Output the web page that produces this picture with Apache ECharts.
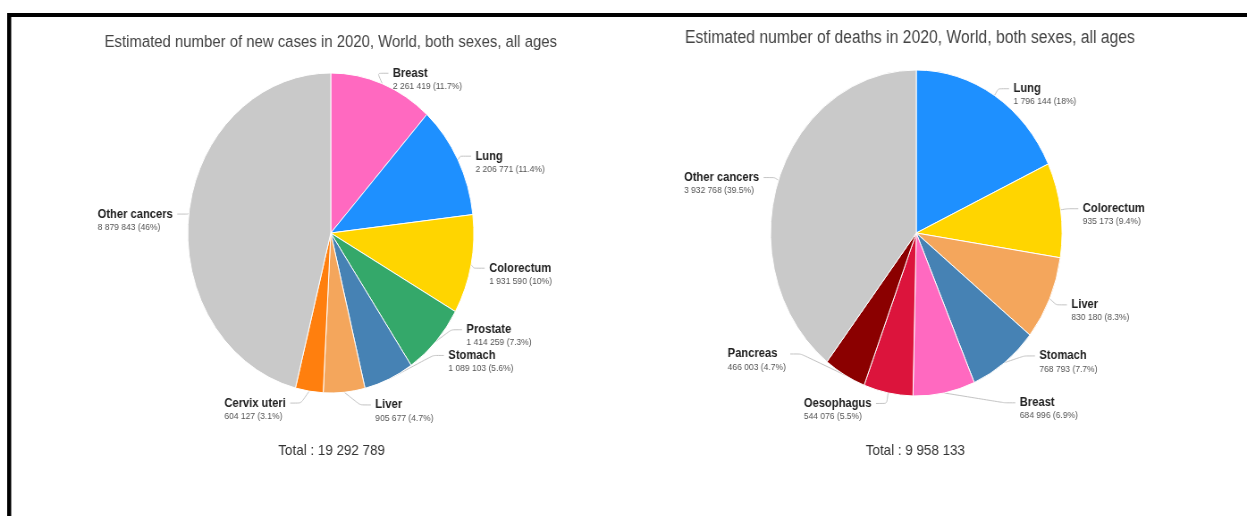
<!DOCTYPE html>
<html>
<head>
<meta charset="utf-8">
<script src="https://cdn.jsdelivr.net/npm/echarts@6/dist/echarts.min.js"></script>
<style>
  html, body { margin: 0; padding: 0; background: #fff; overflow: hidden; }
  #wrap { width: 1247px; height: 516px; overflow: hidden; position: relative; }
  #main { width: 1395px; height: 516px; transform: scaleX(0.8939); transform-origin: 0 0; }
</style>
</head>
<body>
<div id="wrap"><div id="main"></div></div>
<script>
// ---- Data ----
const casesTitle = 'Estimated number of new cases in 2020, World, both sexes, all ages';
const casesNames = ['Breast', 'Lung', 'Colorectum', 'Prostate', 'Stomach', 'Liver', 'Cervix uteri', 'Other cancers'];
const casesValues = [2261419, 2206771, 1931590, 1414259, 1089103, 905677, 604127, 8879843];
const casesColors = ['#FF69C0', '#1E90FF', '#FFD500', '#34A86A', '#4682B4', '#F4A65C', '#FF7F0E', '#C9C9C9'];

const deathsTitle = 'Estimated number of deaths in 2020, World, both sexes, all ages';
const deathsNames = ['Lung', 'Colorectum', 'Liver', 'Stomach', 'Breast', 'Oesophagus', 'Pancreas', 'Other cancers'];
const deathsValues = [1796144, 935173, 830180, 768793, 684996, 544076, 466003, 3932768];
const deathsColors = ['#1E90FF', '#FFD500', '#F4A65C', '#4682B4', '#FF69C0', '#DC143C', '#8B0000', '#C9C9C9'];

// ---- Label nudges (layout only, [dx, dy] in chart px) ----
const casesNudge = { 'Breast': [-8, -3], 'Colorectum': [0, 2], 'Prostate': [9, -17], 'Stomach': [30, -31],
                     'Liver': [17, -8], 'Cervix uteri': [-8, 4], 'Other cancers': [7, 2] };
const deathsNudge = { 'Liver': [0, 3], 'Stomach': [17, -13], 'Breast': [66, 2], 'Oesophagus': [0, -5],
                      'Pancreas': [-38, -28], 'Other cancers': [3, 0] };

// ---- Helpers ----
function fmt(n) { return String(n).replace(/\B(?=(\d{3})+(?!\d))/g, ' '); }
function pct(v, total) { return String(parseFloat((v / total * 100).toFixed(1))); }
function sum(a) { return a.reduce((s, x) => s + x, 0); }
function build(names, values, colors) {
  return names.map((n, i) => ({ name: n, value: values[i], itemStyle: { color: colors[i] } }));
}

const casesTotal = sum(casesValues);
const deathsTotal = sum(deathsValues);
const FONT = 'Liberation Sans, Arial, sans-serif';

function pieSeries(center, radius, names, values, colors, total, nudge) {
  return {
    type: 'pie',
    center: center,
    radius: radius,
    startAngle: 90,
    clockwise: true,
    animation: false,
    avoidLabelOverlap: true,
    data: build(names, values, colors),
    itemStyle: { borderColor: '#fff', borderWidth: 1 },
    label: {
      show: true,
      position: 'outside',
      padding: [12, 0, 0, 0],
      formatter: p => '{n|' + p.name + '}\n{v|' + fmt(p.value) + ' (' + pct(p.value, total) + '%)}',
      rich: {
        n: { fontFamily: FONT, fontWeight: 'bold', fontSize: 12.5, color: '#222', lineHeight: 14, align: 'left' },
        v: { fontFamily: FONT, fontSize: 9.5, color: '#555', lineHeight: 12, align: 'left' }
      }
    },
    labelLine: { show: true, length: 8, length2: 12, smooth: 0.15, lineStyle: { color: '#c4c4c4', width: 1 } },
    labelLayout: function (params) {
      const d = nudge[names[params.dataIndex]];
      if (!d) return {};
      const out = { dx: d[0], dy: d[1] };
      const pts = params.labelLinePoints;
      if (pts && pts.length === 3) {
        out.labelLinePoints = [
          [pts[0][0], pts[0][1]],
          [pts[1][0] + d[0], pts[1][1] + d[1]],
          [pts[2][0] + d[0], pts[2][1] + d[1]]
        ];
      }
      return out;
    },
    emphasis: { disabled: true }
  };
}

const chart = echarts.init(document.getElementById('main'), null, { renderer: 'canvas' });
const t1Style = { fontFamily: FONT, fontSize: 16.7, fontWeight: 'normal', color: '#444' };
const t2Style = { fontFamily: FONT, fontSize: 17.6, fontWeight: 'normal', color: '#444' };
const totStyle = { fontFamily: FONT, fontSize: 15, fontWeight: 'normal', color: '#333' };

chart.setOption({
  backgroundColor: '#fff',
  title: [
    { text: casesTitle, left: 370, top: 34, textAlign: 'center', padding: 0, textStyle: t1Style },
    { text: deathsTitle, left: 1018, top: 29, textAlign: 'center', padding: 0, textStyle: t2Style },
    { text: 'Total : ' + fmt(casesTotal), left: 371, top: 443, textAlign: 'center', padding: 0, textStyle: totStyle },
    { text: 'Total : ' + fmt(deathsTotal), left: 1024, top: 443, textAlign: 'center', padding: 0, textStyle: totStyle }
  ],
  graphic: [
    { type: 'rect', shape: { x: 8, y: 13, width: 1400, height: 4 }, style: { fill: '#000' }, silent: true },
    { type: 'rect', shape: { x: 8, y: 13, width: 4.5, height: 510 }, style: { fill: '#000' }, silent: true }
  ],
  series: [
    pieSeries([370, 233], 160, casesNames, casesValues, casesColors, casesTotal, casesNudge),
    pieSeries([1025, 233], 163, deathsNames, deathsValues, deathsColors, deathsTotal, deathsNudge)
  ]
});
</script>
</body>
</html>
